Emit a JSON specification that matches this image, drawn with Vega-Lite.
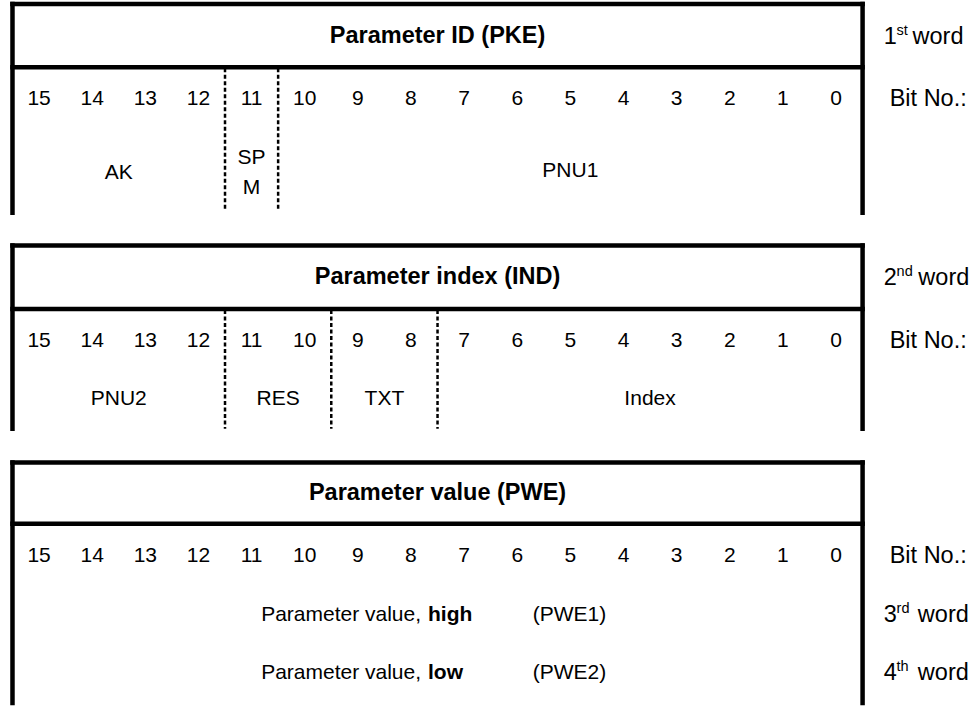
{
  "$schema": "https://vega.github.io/schema/vega-lite/v6.json",
  "width": 980,
  "height": 707,
  "padding": 0,
  "autosize": {"type": "fit", "contains": "padding"},
  "background": "white",
  "config": {"view": {"stroke": null}, "text": {"font": "Liberation Sans", "color": "black"}},
  "datasets": {
    "frame": [
      {"u": 0, "u2": 16, "y": 4, "y2": 4},
      {"u": 0, "u2": 16, "y": 68, "y2": 68},
      {"u": 0, "u2": 0, "y": 4, "y2": 215},
      {"u": 16, "u2": 16, "y": 4, "y2": 215},
      {"u": 0, "u2": 16, "y": 248, "y2": 248},
      {"u": 0, "u2": 16, "y": 312, "y2": 312},
      {"u": 0, "u2": 0, "y": 248, "y2": 433},
      {"u": 16, "u2": 16, "y": 248, "y2": 433},
      {"u": 0, "u2": 16, "y": 467, "y2": 467},
      {"u": 0, "u2": 16, "y": 529, "y2": 529},
      {"u": 0, "u2": 0, "y": 467, "y2": 710},
      {"u": 16, "u2": 16, "y": 467, "y2": 710}
    ],
    "dividers": [
      {"u": 4, "y": 69, "y2": 213},
      {"u": 5, "y": 69, "y2": 213},
      {"u": 4, "y": 313, "y2": 433},
      {"u": 6, "y": 313, "y2": 433},
      {"u": 8, "y": 313, "y2": 433}
    ],
    "centered": [
      {"u": 0.5, "y": 100, "t": "15"}, {"u": 1.5, "y": 100, "t": "14"}, {"u": 2.5, "y": 100, "t": "13"}, {"u": 3.5, "y": 100, "t": "12"},
      {"u": 4.5, "y": 100, "t": "11"}, {"u": 5.5, "y": 100, "t": "10"}, {"u": 6.5, "y": 100, "t": "9"}, {"u": 7.5, "y": 100, "t": "8"},
      {"u": 8.5, "y": 100, "t": "7"}, {"u": 9.5, "y": 100, "t": "6"}, {"u": 10.5, "y": 100, "t": "5"}, {"u": 11.5, "y": 100, "t": "4"},
      {"u": 12.5, "y": 100, "t": "3"}, {"u": 13.5, "y": 100, "t": "2"}, {"u": 14.5, "y": 100, "t": "1"}, {"u": 15.5, "y": 100, "t": "0"},
      {"u": 0.5, "y": 344, "t": "15"}, {"u": 1.5, "y": 344, "t": "14"}, {"u": 2.5, "y": 344, "t": "13"}, {"u": 3.5, "y": 344, "t": "12"},
      {"u": 4.5, "y": 344, "t": "11"}, {"u": 5.5, "y": 344, "t": "10"}, {"u": 6.5, "y": 344, "t": "9"}, {"u": 7.5, "y": 344, "t": "8"},
      {"u": 8.5, "y": 344, "t": "7"}, {"u": 9.5, "y": 344, "t": "6"}, {"u": 10.5, "y": 344, "t": "5"}, {"u": 11.5, "y": 344, "t": "4"},
      {"u": 12.5, "y": 344, "t": "3"}, {"u": 13.5, "y": 344, "t": "2"}, {"u": 14.5, "y": 344, "t": "1"}, {"u": 15.5, "y": 344, "t": "0"},
      {"u": 0.5, "y": 562, "t": "15"}, {"u": 1.5, "y": 562, "t": "14"}, {"u": 2.5, "y": 562, "t": "13"}, {"u": 3.5, "y": 562, "t": "12"},
      {"u": 4.5, "y": 562, "t": "11"}, {"u": 5.5, "y": 562, "t": "10"}, {"u": 6.5, "y": 562, "t": "9"}, {"u": 7.5, "y": 562, "t": "8"},
      {"u": 8.5, "y": 562, "t": "7"}, {"u": 9.5, "y": 562, "t": "6"}, {"u": 10.5, "y": 562, "t": "5"}, {"u": 11.5, "y": 562, "t": "4"},
      {"u": 12.5, "y": 562, "t": "3"}, {"u": 13.5, "y": 562, "t": "2"}, {"u": 14.5, "y": 562, "t": "1"}, {"u": 15.5, "y": 562, "t": "0"},
      {"u": 2.0, "y": 175, "t": "AK"},
      {"u": 4.5, "y": 160, "t": "SP"},
      {"u": 4.5, "y": 190, "t": "M"},
      {"u": 10.5, "y": 173, "t": "PNU1"},
      {"u": 2.0, "y": 403, "t": "PNU2"},
      {"u": 5.0, "y": 403, "t": "RES"},
      {"u": 7.0, "y": 403, "t": "TXT"},
      {"u": 12.0, "y": 403, "t": "Index"}
    ],
    "titles": [
      {"u": 8, "y": 36, "t": "Parameter ID (PKE)"},
      {"u": 8, "y": 280, "t": "Parameter index (IND)"},
      {"u": 8, "y": 498, "t": "Parameter value (PWE)"}
    ],
    "sideLabels": [
      {"u": 16.51, "y": 100, "t": "Bit No.:"},
      {"u": 16.51, "y": 344, "t": "Bit No.:"},
      {"u": 16.51, "y": 562, "t": "Bit No.:"},
      {"u": 16.40, "y": 37, "t": "1"},
      {"u": 16.40, "y": 281, "t": "2"},
      {"u": 16.40, "y": 621, "t": "3"},
      {"u": 16.40, "y": 680, "t": "4"},
      {"u": 16.94, "y": 37, "t": "word"},
      {"u": 17.05, "y": 281, "t": "word"},
      {"u": 17.04, "y": 621, "t": "word"},
      {"u": 17.04, "y": 680, "t": "word"}
    ],
    "leftNormal": [
      {"u": 9.79, "y": 621, "t": "(PWE1)"},
      {"u": 9.79, "y": 680, "t": "(PWE2)"}
    ],
    "rightNormal": [
      {"u": 7.69, "y": 621, "t": "Parameter value,"},
      {"u": 7.69, "y": 680, "t": "Parameter value,"}
    ],
    "leftBold": [
      {"u": 7.82, "y": 621, "t": "high"},
      {"u": 7.82, "y": 680, "t": "low"}
    ],
    "sup": [
      {"u": 16.64, "y": 31, "t": "st"},
      {"u": 16.64, "y": 275, "t": "nd"},
      {"u": 16.64, "y": 615, "t": "rd"},
      {"u": 16.64, "y": 674, "t": "th"}
    ]
  },
  "encoding": {
    "x": {"field": "u", "type": "quantitative", "axis": null, "scale": {"domain": [-0.235, 18.21], "nice": false, "zero": false}},
    "y": {"field": "y", "type": "quantitative", "axis": null, "scale": {"domain": [0, 707], "reverse": true, "nice": false, "zero": false}}
  },
  "layer": [
    {
      "data": {"name": "frame"},
      "mark": {"type": "rule", "strokeWidth": 4.5, "color": "black", "strokeCap": "square"},
      "encoding": {"x2": {"field": "u2"}, "y2": {"field": "y2"}}
    },
    {
      "data": {"name": "dividers"},
      "mark": {"type": "rule", "strokeWidth": 2.5, "color": "black", "strokeDash": [4, 2.5]},
      "encoding": {"y2": {"field": "y2"}}
    },
    {
      "data": {"name": "centered"},
      "mark": {"type": "text", "fontSize": 21, "align": "center", "baseline": "middle"},
      "encoding": {"text": {"field": "t"}}
    },
    {
      "data": {"name": "titles"},
      "mark": {"type": "text", "fontSize": 23.5, "fontWeight": "bold", "align": "center", "baseline": "middle"},
      "encoding": {"text": {"field": "t"}}
    },
    {
      "data": {"name": "sideLabels"},
      "mark": {"type": "text", "fontSize": 23.5, "align": "left", "baseline": "middle"},
      "encoding": {"text": {"field": "t"}}
    },
    {
      "data": {"name": "leftNormal"},
      "mark": {"type": "text", "fontSize": 21, "align": "left", "baseline": "middle"},
      "encoding": {"text": {"field": "t"}}
    },
    {
      "data": {"name": "rightNormal"},
      "mark": {"type": "text", "fontSize": 21, "align": "right", "baseline": "middle"},
      "encoding": {"text": {"field": "t"}}
    },
    {
      "data": {"name": "leftBold"},
      "mark": {"type": "text", "fontSize": 21, "fontWeight": "bold", "align": "left", "baseline": "middle"},
      "encoding": {"text": {"field": "t"}}
    },
    {
      "data": {"name": "sup"},
      "mark": {"type": "text", "fontSize": 14.5, "align": "left", "baseline": "middle"},
      "encoding": {"text": {"field": "t"}}
    }
  ]
}
